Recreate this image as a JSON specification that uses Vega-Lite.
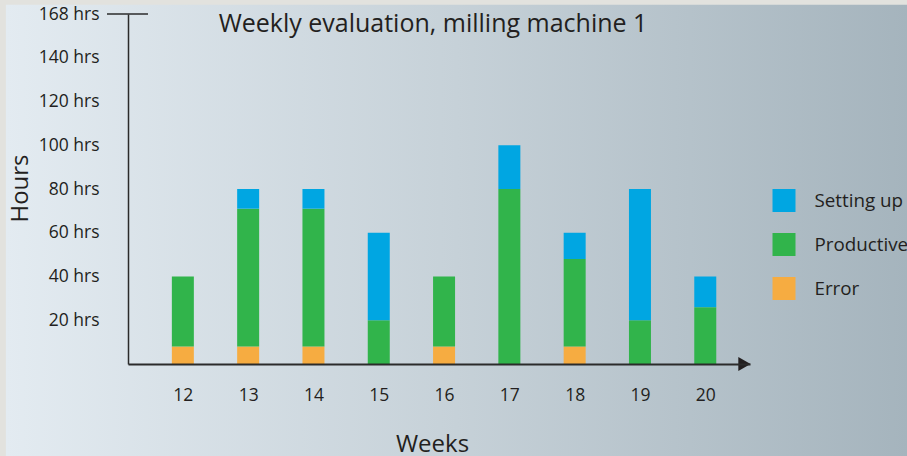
{
  "$schema": "https://vega.github.io/schema/vega-lite/v6.json",
  "width": 622,
  "height": 350,
  "autosize": {"type": "none"},
  "padding": {"left": 128, "top": 14, "right": 157, "bottom": 92},
  "background": "#E2E2DE",
  "title": {
    "text": "Weekly evaluation, milling machine 1",
    "font": "Open Sans",
    "fontSize": 25,
    "fontWeight": "normal",
    "color": "#231F20",
    "anchor": "middle",
    "frame": "group",
    "baseline": "alphabetic",
    "offset": 0,
    "dx": -6,
    "dy": 52,
    "zindex": 2
  },
  "data": {
    "values": [
      {"week": 12, "category": "Error", "hours": 8},
      {"week": 12, "category": "Productive", "hours": 32},
      {"week": 13, "category": "Error", "hours": 8},
      {"week": 13, "category": "Productive", "hours": 63},
      {"week": 13, "category": "Setting up", "hours": 9},
      {"week": 14, "category": "Error", "hours": 8},
      {"week": 14, "category": "Productive", "hours": 63},
      {"week": 14, "category": "Setting up", "hours": 9},
      {"week": 15, "category": "Productive", "hours": 20},
      {"week": 15, "category": "Setting up", "hours": 40},
      {"week": 16, "category": "Error", "hours": 8},
      {"week": 16, "category": "Productive", "hours": 32},
      {"week": 17, "category": "Productive", "hours": 80},
      {"week": 17, "category": "Setting up", "hours": 20},
      {"week": 18, "category": "Error", "hours": 8},
      {"week": 18, "category": "Productive", "hours": 40},
      {"week": 18, "category": "Setting up", "hours": 12},
      {"week": 19, "category": "Productive", "hours": 20},
      {"week": 19, "category": "Setting up", "hours": 60},
      {"week": 20, "category": "Productive", "hours": 26},
      {"week": 20, "category": "Setting up", "hours": 14}
    ]
  },
  "layer": [
    {
      "data": {"values": [{}]},
      "mark": {
        "type": "rect",
        "color": {
          "gradient": "linear",
          "x1": 0, "x2": 1, "y1": 0, "y2": 0,
          "stops": [
            {"offset": 0, "color": "#E3EBF1"},
            {"offset": 0.5, "color": "#C6D1D8"},
            {"offset": 1, "color": "#A5B4BD"}
          ]
        }
      },
      "encoding": {
        "x": {"datum": 9.29, "type": "quantitative"},
        "x2": {"datum": 23.1},
        "y": {"datum": 164.2, "type": "quantitative"},
        "y2": {"datum": -50}
      }
    },
    {
      "mark": {"type": "bar", "width": 22},
      "encoding": {
        "x": {
          "field": "week",
          "type": "quantitative",
          "scale": {"domain": [11.16, 20.685], "nice": false, "zero": false, "padding": 0},
          "axis": {
            "title": "Weeks",
            "values": [12, 13, 14, 15, 16, 17, 18, 19, 20],
            "format": "d",
            "grid": false,
            "ticks": false,
            "zindex": 1,
            "labelPadding": 22,
            "labelFont": "Open Sans",
            "labelFontSize": 17.5,
            "labelColor": "#231F20",
            "labelFlush": false,
            "domainColor": "#2B2B2B",
            "domainWidth": 2,
            "titleFont": "Open Sans",
            "titleFontSize": 24,
            "titleFontWeight": "normal",
            "titleColor": "#231F20",
            "titleX": 304,
            "titleY": 87,
            "titleBaseline": "alphabetic",
            "titleAlign": "center"
          }
        },
        "y": {
          "field": "hours",
          "type": "quantitative",
          "stack": "zero",
          "scale": {"domain": [0, 160], "nice": false},
          "axis": {
            "title": "Hours",
            "values": [20, 40, 60, 80, 100, 120, 140, 160],
            "labelExpr": "datum.value == 160 ? '168 hrs' : datum.value + ' hrs'",
            "grid": false,
            "ticks": false,
            "zindex": 1,
            "labelPadding": 29,
            "labelFont": "Open Sans",
            "labelFontSize": 17.5,
            "labelColor": "#231F20",
            "labelFlush": false,
            "domainColor": "#2B2B2B",
            "domainWidth": 1.5,
            "titleFont": "Open Sans",
            "titleFontSize": 24,
            "titleFontWeight": "normal",
            "titleColor": "#231F20",
            "titleAngle": -90,
            "titleX": -101,
            "titleY": 174,
            "titleBaseline": "alphabetic",
            "titleAlign": "center"
          }
        },
        "color": {
          "field": "category",
          "type": "nominal",
          "scale": {
            "domain": ["Setting up", "Productive", "Error"],
            "range": ["#00A6E2", "#31B44B", "#F6AC41"]
          },
          "legend": {
            "title": null,
            "orient": "none",
            "legendX": 644.5,
            "legendY": 175,
            "padding": 0,
            "zindex": 1,
            "symbolType": "square",
            "symbolSize": 529,
            "symbolStrokeWidth": 0,
            "symbolOpacity": 1,
            "rowPadding": 21,
            "labelOffset": 19,
            "labelFont": "Open Sans",
            "labelFontSize": 18.8,
            "labelColor": "#231F20",
            "labelLimit": 200
          }
        },
        "order": {"field": "category", "type": "nominal", "sort": "ascending"}
      }
    },
    {
      "data": {"values": [{}]},
      "mark": {"type": "rule", "color": "#2B2B2B", "strokeWidth": 1.5},
      "encoding": {
        "x": {"datum": 10.838, "type": "quantitative"},
        "x2": {"datum": 11.466},
        "y": {"datum": 160, "type": "quantitative"}
      }
    },
    {
      "data": {"values": [{}]},
      "mark": {"type": "point", "shape": "triangle-right", "filled": true, "color": "#231F20", "size": 200, "opacity": 1},
      "encoding": {
        "x": {"datum": 20.6, "type": "quantitative"},
        "y": {"datum": 0, "type": "quantitative"}
      }
    }
  ],
  "config": {
    "view": {"stroke": null},
    "axis": {"grid": false}
  }
}
